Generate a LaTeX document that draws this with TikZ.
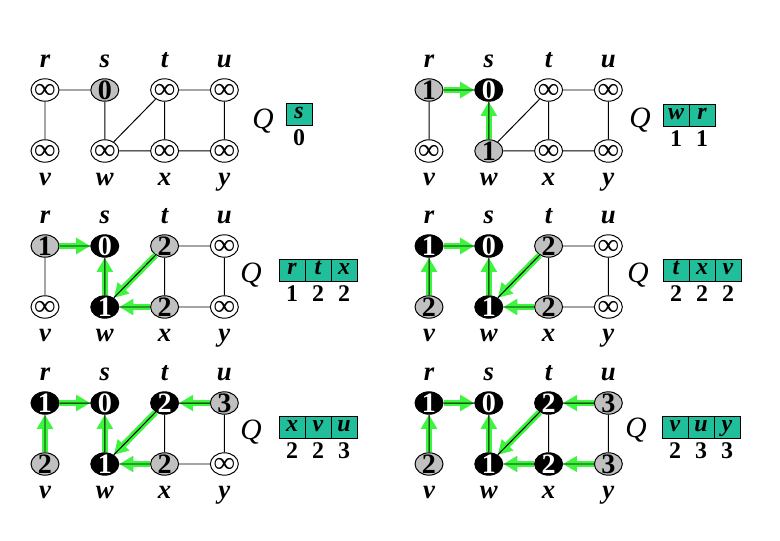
\documentclass[tikz,border=0pt]{standalone}
\usepackage{fontspec}
\setmainfont{Liberation Serif}
\usepackage{xcolor}
\usetikzlibrary{shapes.geometric, arrows.meta, positioning}

\definecolor{vgray}{RGB}{192,192,192}
\definecolor{qteal}{RGB}{32,190,155}
\definecolor{tgreen}{RGB}{60,245,60}

% vertex value, centred in a zero-size box
\newcommand{\vval}[1]{\raisebox{-6.75pt}[0pt][0pt]{\makebox[0pt]{#1}}}
\newcommand{\infsym}{\raisebox{-6.1pt}[0pt][0pt]{\makebox[0pt]{\fontsize{21}{21}\selectfont ∞}}}

\begin{document}
\begin{tikzpicture}[
    x=0.25mm, y=-0.25mm,
    node distance=9.4mm and 7.7mm,
    vtx/.style={draw, ellipse, line width=0.7pt, minimum width=7mm, minimum height=5.6mm, inner sep=0pt, fill=white, text height=0pt, text depth=0pt, font=\fontsize{20}{20}\selectfont\bfseries},
    gry/.style={vtx, fill=vgray},
    blk/.style={vtx, fill=black, text=white},
    lbl/.style={shape=rectangle, draw=none, fill=none, text=black, inner sep=0pt, minimum size=0pt, text height=8pt, text depth=3pt, font=\fontsize{19}{19}\selectfont\bfseries\itshape},
    lblup/.style={label={[lbl, label distance=4.4pt]above:#1}},
    lbldn/.style={label={[lbl, label distance=8.2pt]below:#1}},
    qlbl/.style={font=\fontsize{21}{21}\selectfont\itshape},
    qcell/.style={draw, fill=qteal, line width=0.6pt, outer sep=0pt, inner sep=0pt, minimum width=6.5mm, minimum height=5.5mm, text height=8pt, text depth=2pt, font=\fontsize{17}{17}\selectfont\bfseries\itshape},
    qnum/.style={label={[shape=rectangle, draw=none, fill=none, inner sep=0pt, text height=9pt, text depth=0pt, label distance=5.2pt, font=\fontsize{17}{17}\selectfont\bfseries]below:#1}},
    link/.style={line width=0.7pt},
    tree/.style={draw=tgreen, line width=4.5pt, -{Triangle[length=10pt, width=11pt]}}
]
\useasboundingbox (0,0) rectangle (780,540);

% panel 1
\node (r1) [vtx, lblup=r] at (45,90) {\infsym};
\node (s1) [gry, lblup=s, right=of r1] {\vval{0}};
\node (t1) [vtx, lblup=t, right=of s1] {\infsym};
\node (u1) [vtx, lblup=u, right=of t1] {\infsym};
\node (v1) [vtx, lbldn=v, below=of r1] {\infsym};
\node (w1) [vtx, lbldn=w, below=of s1] {\infsym};
\node (x1) [vtx, lbldn=x, below=of t1] {\infsym};
\node (y1) [vtx, lbldn=y, below=of u1] {\infsym};
\node (Q1) [qlbl] at (263,121) {Q};
\node (q1a) [qcell, qnum=0] at (299,114) {s};

% panel 2
\node (r2) [gry, lblup=r] at (429,90) {\vval{1}};
\node (s2) [blk, lblup=s, right=of r2] {\vval{0}};
\node (t2) [vtx, lblup=t, right=of s2] {\infsym};
\node (u2) [vtx, lblup=u, right=of t2] {\infsym};
\node (v2) [vtx, lbldn=v, below=of r2] {\infsym};
\node (w2) [gry, lbldn=w, below=of s2] {\vval{1}};
\node (x2) [vtx, lbldn=x, below=of t2] {\infsym};
\node (y2) [vtx, lbldn=y, below=of u2] {\infsym};
\node (Q2) [qlbl] at (640,120) {Q};
\node (q2a) [qcell, qnum=1] at (676,115) {w};
\node (q2b) [qcell, qnum=1, right=0pt of q2a] {r};
\draw [tree] (r2) -- (s2);
\draw [tree] (w2) -- (s2);

% panel 3
\node (r3) [gry, lblup=r] at (45,246) {\vval{1}};
\node (s3) [blk, lblup=s, right=of r3] {\vval{0}};
\node (t3) [gry, lblup=t, right=of s3] {\vval{2}};
\node (u3) [vtx, lblup=u, right=of t3] {\infsym};
\node (v3) [vtx, lbldn=v, below=of r3] {\infsym};
\node (w3) [blk, lbldn=w, below=of s3] {\vval{1}};
\node (x3) [gry, lbldn=x, below=of t3] {\vval{2}};
\node (y3) [vtx, lbldn=y, below=of u3] {\infsym};
\node (Q3) [qlbl] at (251,275) {Q};
\node (q3a) [qcell, qnum=1] at (292,270) {r};
\node (q3b) [qcell, qnum=2, right=0pt of q3a] {t};
\node (q3c) [qcell, qnum=2, right=0pt of q3b] {x};
\draw [tree] (r3) -- (s3);
\draw [tree] (w3) -- (s3);
\draw [tree] (t3) -- (w3);
\draw [tree] (x3) -- (w3);

% panel 4
\node (r4) [blk, lblup=r] at (429,246) {\vval{1}};
\node (s4) [blk, lblup=s, right=of r4] {\vval{0}};
\node (t4) [gry, lblup=t, right=of s4] {\vval{2}};
\node (u4) [vtx, lblup=u, right=of t4] {\infsym};
\node (v4) [gry, lbldn=v, below=of r4] {\vval{2}};
\node (w4) [blk, lbldn=w, below=of s4] {\vval{1}};
\node (x4) [gry, lbldn=x, below=of t4] {\vval{2}};
\node (y4) [vtx, lbldn=y, below=of u4] {\infsym};
\node (Q4) [qlbl] at (638,275) {Q};
\node (q4a) [qcell, qnum=2] at (676,270) {t};
\node (q4b) [qcell, qnum=2, right=0pt of q4a] {x};
\node (q4c) [qcell, qnum=2, right=0pt of q4b] {v};
\draw [tree] (r4) -- (s4);
\draw [tree] (v4) -- (r4);
\draw [tree] (w4) -- (s4);
\draw [tree] (t4) -- (w4);
\draw [tree] (x4) -- (w4);

% panel 5
\node (r5) [blk, lblup=r] at (45,403) {\vval{1}};
\node (s5) [blk, lblup=s, right=of r5] {\vval{0}};
\node (t5) [blk, lblup=t, right=of s5] {\vval{2}};
\node (u5) [gry, lblup=u, right=of t5] {\vval{3}};
\node (v5) [gry, lbldn=v, below=of r5] {\vval{2}};
\node (w5) [blk, lbldn=w, below=of s5] {\vval{1}};
\node (x5) [gry, lbldn=x, below=of t5] {\vval{2}};
\node (y5) [vtx, lbldn=y, below=of u5] {\infsym};
\node (Q5) [qlbl] at (251,432) {Q};
\node (q5a) [qcell, qnum=2] at (292,427) {x};
\node (q5b) [qcell, qnum=2, right=0pt of q5a] {v};
\node (q5c) [qcell, qnum=3, right=0pt of q5b] {u};
\draw [tree] (r5) -- (s5);
\draw [tree] (v5) -- (r5);
\draw [tree] (w5) -- (s5);
\draw [tree] (t5) -- (w5);
\draw [tree] (x5) -- (w5);
\draw [tree] (u5) -- (t5);

% panel 6
\node (r6) [blk, lblup=r] at (429,403) {\vval{1}};
\node (s6) [blk, lblup=s, right=of r6] {\vval{0}};
\node (t6) [blk, lblup=t, right=of s6] {\vval{2}};
\node (u6) [gry, lblup=u, right=of t6] {\vval{3}};
\node (v6) [gry, lbldn=v, below=of r6] {\vval{2}};
\node (w6) [blk, lbldn=w, below=of s6] {\vval{1}};
\node (x6) [blk, lbldn=x, below=of t6] {\vval{2}};
\node (y6) [gry, lbldn=y, below=of u6] {\vval{3}};
\node (Q6) [qlbl] at (636,430) {Q};
\node (q6a) [qcell, qnum=2] at (675,427) {v};
\node (q6b) [qcell, qnum=3, right=0pt of q6a] {u};
\node (q6c) [qcell, qnum=3, right=0pt of q6b] {y};
\draw [tree] (r6) -- (s6);
\draw [tree] (v6) -- (r6);
\draw [tree] (w6) -- (s6);
\draw [tree] (t6) -- (w6);
\draw [tree] (x6) -- (w6);
\draw [tree] (u6) -- (t6);
\draw [tree] (y6) -- (x6);

% graph edges, drawn over the tree arrows
\foreach \p in {1,...,6}
  \draw [link] (r\p) -- (s\p) (r\p) -- (v\p) (s\p) -- (w\p) (w\p) -- (t\p)
    (w\p) -- (x\p) (t\p) -- (x\p) (t\p) -- (u\p) (x\p) -- (y\p) (u\p) -- (y\p);
\end{tikzpicture}
\end{document}
